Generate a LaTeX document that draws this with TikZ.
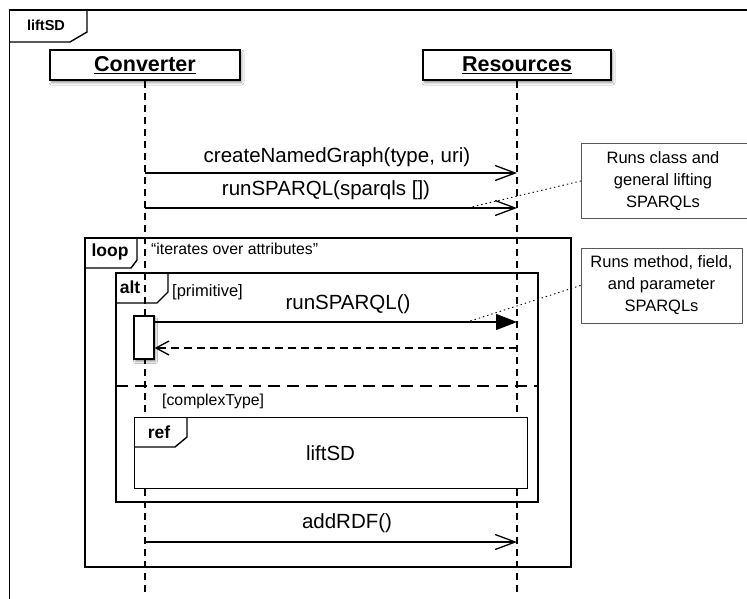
\documentclass[tikz,border=0pt]{standalone}
\usepackage{fontspec}
\setmainfont{Liberation Sans}
\usetikzlibrary{arrows.meta,shadows.blur}
\newcommand\fsz[2]{\fontsize{#1}{#2}\selectfont}
\begin{document}
\begin{tikzpicture}[x=1pt,y=-1pt,
  frame/.style={line width=1.4pt},
  headbox/.style={draw, line width=1.4pt, fill=white, minimum width=190pt, minimum height=30pt, inner sep=0pt,
    blur shadow={shadow xshift=1.5pt, shadow yshift=-2.5pt, shadow blur radius=2.5pt, shadow opacity=45},
    font=\fsz{21.5}{24}\bfseries},
  lifeline/.style={line width=1.3pt, dash pattern=on 7pt off 5pt},
  msg/.style={line width=1.3pt, -{Straight Barb[length=20pt,width=15pt]}},
  sync/.style={line width=1.3pt, -{Triangle[length=21pt,width=16pt]}},
  reply/.style={line width=1.3pt, dash pattern=on 8pt off 5pt, -{Straight Barb[length=13pt,width=14pt]}},
  sepline/.style={line width=2pt, dash pattern=on 12pt off 7pt},
  msgtext/.style={inner sep=0pt, font=\fsz{20.5}{24}},
  notebox/.style={draw=black!65, line width=0.9pt, fill=white, inner sep=0pt},
  notetext/.style={align=center, inner sep=0pt, font=\fsz{16.5}{22}},
  noteline/.style={line width=0.9pt, dash pattern=on 1.4pt off 3pt},
  tablabel/.style={inner sep=0pt, font=\fsz{17.5}{20}\bfseries},
  guard/.style={inner sep=0pt, font=\fsz{15.8}{18}},
  actbox/.style={draw, line width=1.3pt, fill=white, minimum width=20pt, minimum height=43pt, inner sep=0pt,
    blur shadow={shadow xshift=1.5pt, shadow yshift=-2.5pt, shadow blur radius=2pt, shadow opacity=45}}
]
\useasboundingbox (0,0) rectangle (747,598);
\fill[white] (0,0) rectangle (747,598);
\clip (0,0) rectangle (747,598);

% outer frame
\draw[frame] (9.5,640) -- (9.5,10) -- (780,10);
\draw[frame] (9.5,42) -- (70,42) -- (87,32) -- (87,10);
\node[inner sep=0pt, font=\fsz{14.5}{16}\bfseries] (tabsd) at (46,25) {liftSD};

% lifelines and heads
\node[headbox] (conv) at (145,65) {\underline{Converter}};
\node[headbox, minimum width=188pt] (res) at (517,65) {\underline{Resources}};
\coordinate (convend) at (145,592);
\coordinate (resend) at (517,592);
\draw[lifeline] (conv.south) -- (convend);
\draw[lifeline] (res.south) -- (resend);

% first messages
\coordinate (m1a) at (145,173);
\coordinate (m1b) at (517,173);
\draw[msg] (m1a) -- (m1b);
\node[msgtext] (m1t) at (337,157) {createNamedGraph(type, uri)};
\coordinate (m2a) at (145,208);
\coordinate (m2b) at (517,208);
\draw[msg] (m2a) -- (m2b);
\node[msgtext] (m2t) at (326,190) {runSPARQL(sparqls [])};

% note 1
\node[notebox, minimum width=200pt, minimum height=75pt, anchor=north west] (n1) at (581,143) {};
\node[notetext] (n1t) at (663,181) {Runs class and\\general lifting\\SPARQLs};
\coordinate (d1) at (467,208);
\draw[noteline] (n1.west) -- (d1);

% loop fragment
\draw[frame] (85,238) rectangle (571,567);
\draw[frame] (85,268) -- (131,268) -- (137,260) -- (137,238);
\node[tablabel] (looplbl) at (110,252) {loop};
\node[guard, anchor=west] (loopg) at (151,249) {“iterates over attributes”};

% alt fragment
\draw[frame] (116,273) rectangle (538,502);
\draw[frame] (116,303) -- (157,303) -- (168,292) -- (168,273);
\node[tablabel] (altlbl) at (130,287) {alt};
\node[guard, anchor=west, font=\fsz{16.5}{18}] (altg1) at (172,292) {[primitive]};
\draw[sepline] (116,386) -- (538,386);
\node[guard, anchor=west] (altg2) at (162,401) {[complexType]};

% activation and sync call
\node[actbox] (act) at (144,337.5) {};
\coordinate (r1b) at (517,322);
\draw[sync] (act.east |- r1b) -- (r1b);
\node[msgtext] (r1t) at (348,304) {runSPARQL()};
\coordinate (r2a) at (517,348);
\draw[reply] (r2a) -- (act.east |- r2a);

% note 2
\node[notebox, notetext, minimum width=161pt, minimum height=75pt] (n2) at (661.5,285.5) {Runs method, field,\\and parameter\\SPARQLs};
\coordinate (d2) at (467,322);
\draw[noteline] (n2.west) -- (d2);

% ref fragment
\node[draw, fill=white, line width=1.4pt, inner sep=0pt, minimum width=393pt, minimum height=71pt, anchor=north west] (refbox) at (134,417) {};
\draw[frame] (134,447) -- (175,447) -- (187,437) -- (187,417);
\node[tablabel] (reflbl) at (159,432) {ref};
\node[msgtext] (reft) at (330.5,453) {liftSD};

% addRDF
\coordinate (m3a) at (145,542);
\coordinate (m3b) at (517,542);
\draw[msg] (m3a) -- (m3b);
\node[msgtext] (m3t) at (347,523) {addRDF()};
\end{tikzpicture}
\end{document}
